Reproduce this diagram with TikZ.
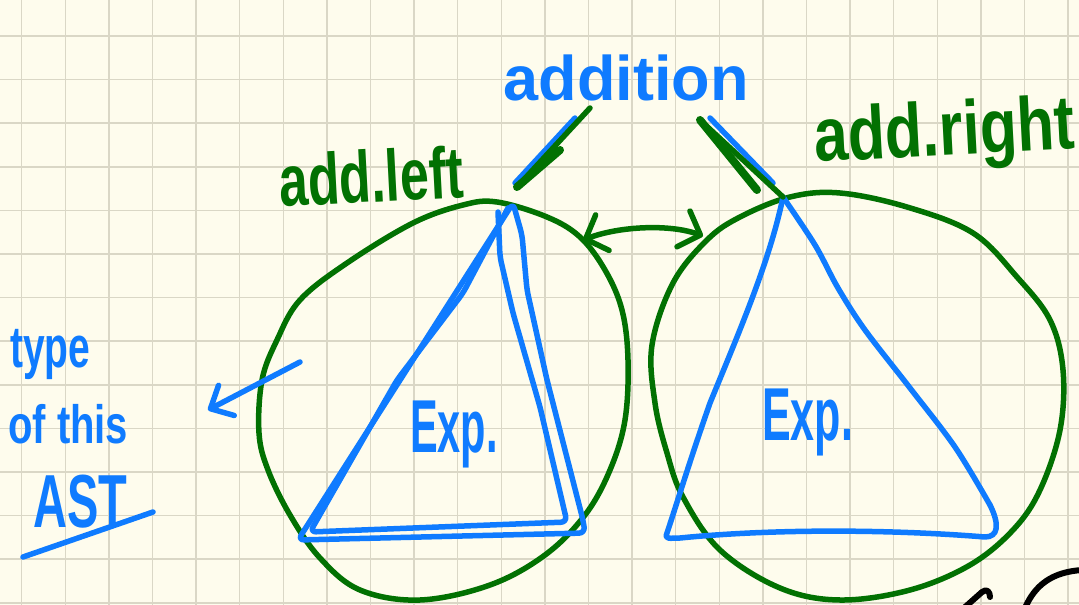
\documentclass[tikz,border=0pt]{standalone}
\usepackage{fontspec}
\setmainfont{Liberation Sans}
\usetikzlibrary{arrows.meta,calc}
\definecolor{paper}{HTML}{FEFCED}
\definecolor{gridc}{HTML}{DAD7C6}
\definecolor{penblue}{HTML}{0F7BFF}
\definecolor{pengreen}{HTML}{027102}
\tikzset{Hb/.tip={Straight Barb[length=18pt,width=38pt,round]},
         Hs/.tip={Straight Barb[length=18pt,width=34pt,round]}}
\begin{document}
\begin{tikzpicture}[x=1pt,y=-1pt,
  gridline/.style={draw=gridc, line width=1.5pt},
  bluepen/.style={draw=penblue, line width=5.5pt, line cap=round, line join=round},
  greenpen/.style={draw=pengreen, line width=5.5pt, line cap=round, line join=round},
  blackpen/.style={draw=black, line width=6pt, line cap=round, line join=round},
  bluetxt/.style={text=penblue, inner sep=0pt},
  greentxt/.style={text=pengreen, inner sep=0pt}]
\useasboundingbox (0,0) rectangle (1079,605);
\fill[paper] (0,0) rectangle (1079,605);
\clip (0,0) rectangle (1079,605);
% grid (cells of 43.6 px)
\foreach \gx in {21.7, 65.3, 108.9, 152.5, 196.1, 239.7, 283.3, 326.9, 370.5, 414.1,
  457.7, 501.3, 544.9, 588.5, 632.1, 675.7, 719.3, 762.9, 806.5, 850.1, 893.7,
  937.3, 980.9, 1024.5, 1068.1}
  \draw[gridline] (\gx,0) -- (\gx,605);
\foreach \gy in {36, 79.6, 123.2, 166.8, 210.4, 254, 297.6, 341.2, 384.8, 428.4,
  472, 515.6, 559.2, 602.8}
  \draw[gridline] (0,\gy) -- (1079,\gy);

% left green circle
\draw[greenpen] plot[smooth cycle, tension=0.6] coordinates {
 (497,202) (547,217) (580,237) (605,270) (622,310) (628,360) (625,420) (610,470)
 (585,515) (545,555) (490,585) (420,600) (360,590) (320,558) (290,515) (268,470)
 (259,433) (262,380) (277,340) (300,300) (347,263) (413,223) (463,205)};
% right green circle
\draw[greenpen] plot[smooth cycle, tension=0.6] coordinates {
 (840,193) (907,207) (973,233) (1017,277) (1050,320) (1063,370) (1060,430) (1040,490)
 (1013,530) (970,565) (910,590) (840,600) (780,588) (720,550) (683,497) (667,453)
 (655,403) (652,345) (673,283) (707,240) (740,217) (790,197)};

% left blue triangle (drawn twice)
\draw[bluepen, rounded corners=6pt] (513,203) -- (298,540) -- (585,533) -- (583,520)
  -- (547,380) -- (527,290) -- (522,235) -- cycle;
\draw[bluepen, rounded corners=6pt] (508,208) -- (463,293) -- (397,380) -- (310,532)
  -- (567,522) -- (540,407) -- (513,313) -- (500,257) -- (498,212);
% right blue triangle
\draw[bluepen] (783,197) .. controls (770,260) and (740,330) .. (710,403)
  .. controls (690,460) and (678,500) .. (667,533)
  .. controls (664,540) and (670,538) .. (680,538)
  .. controls (780,528) and (900,530) .. (985,537)
  .. controls (998,537) and (1000,525) .. (990,505);
\draw[bluepen] plot[smooth, tension=0.55] coordinates {(990,505) (955,447) (910,388) (865,330) (838,288) (815,245) (783,197)};

% labels
\node[bluetxt, font=\bfseries\fontsize{63}{63}\selectfont, anchor=base] (addition) at (626,100) {addition};
\node[greentxt, font=\bfseries\fontsize{52}{52}\selectfont, anchor=base west, rotate=3] (addleft) at (280,207) {\scalebox{1}[1.4]{add.left}};
\node[greentxt, font=\bfseries\fontsize{61}{61}\selectfont, anchor=base west, rotate=3] (addright) at (815,162) {\scalebox{1}[1.25]{add.right}};
\node[bluetxt, font=\bfseries\fontsize{50}{50}\selectfont, anchor=base west] (exp1) at (410,452) {\scalebox{0.83}[1.5]{Exp.}};
\node[bluetxt, font=\bfseries\fontsize{50}{50}\selectfont, anchor=base west] (exp2) at (762,440) {\scalebox{0.86}[1.5]{Exp.}};
\node[bluetxt, font=\bfseries\fontsize{39}{39}\selectfont, anchor=base west] (type) at (10,367) {\scalebox{1}[1.5]{type}};
\node[bluetxt, font=\bfseries\fontsize{40}{40}\selectfont, anchor=base west] (ofthis) at (8,443) {\scalebox{1}[1.35]{of this}};
\node[bluetxt, font=\bfseries\fontsize{47}{47}\selectfont, anchor=base west] (ast) at (33,527) {\scalebox{1}[1.6]{AST}};

% connectors from "addition" to the apexes
\coordinate (apexL) at (515,183);
\coordinate (apexLg) at (517,187);
\coordinate (addLb) at (575,118);
\coordinate (addLg) at (590,108);
\coordinate (addLm) at (560,150);
\draw[bluepen] (apexL) -- (addLb);
\draw[greenpen] (apexLg) -- (addLg);
\draw[greenpen, line width=8pt] (apexLg) -- (addLm);
\coordinate (apexR) at (773,183);
\coordinate (apexRg) at (783,197);
\coordinate (addRb) at (710,118);
\coordinate (addRg) at (700,120);
\coordinate (addRm) at (757,190);
\draw[bluepen] (addRb) -- (apexR);
\draw[greenpen] (addRg) -- (apexRg);
\draw[greenpen, line width=8pt] (addRg) -- (addRm);

% double arrow between the circles
\coordinate (dl) at (583,240);
\coordinate (dr) at (703,236);
\draw[greenpen, Hb-Hb] (dl) .. controls (620,226) and (670,224) .. (dr);

% arrow pointing to the side note
\coordinate (arS) at (300,362);
\coordinate (arE) at (208,410);
\draw[bluepen, -Hs] (arS) -- (arE);
% underline
\coordinate (ulA) at (23,557);
\coordinate (ulB) at (153,512);
\draw[bluepen] (ulA) -- (ulB);

% black strokes at bottom right
\draw[blackpen] (1025,608) .. controls (1035,585) and (1052,572) .. (1082,570);
\draw[blackpen] (964,608) -- (982,592) .. controls (987,588) and (990,592) .. (990,597);
\end{tikzpicture}
\end{document}
